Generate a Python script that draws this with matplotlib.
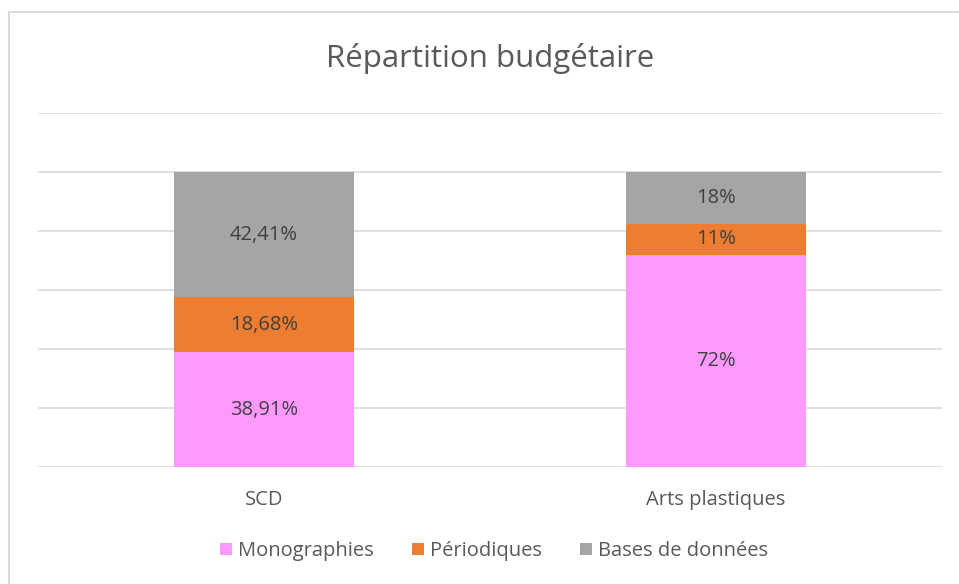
import matplotlib
matplotlib.use("Agg")
import matplotlib.pyplot as plt
from matplotlib.lines import Line2D
from matplotlib.patches import Patch
import numpy as np

categories = ["SCD", "Arts plastiques"]
series_names = ["Monographies", "Périodiques", "Bases de données"]
monographies = [38.91, 72]
periodiques = [18.68, 10.5]
bases = [42.41, 17.5]
labels_mono = ["38,91%", "72%"]
labels_per = ["18,68%", "11%"]
labels_bases = ["42,41%", "18%"]
colors = ["#FF99FF", "#ED7D31", "#A5A5A5"]
yticks = [0, 20, 40, 60, 80, 100, 120]

FONT = ["Open Sans", "DejaVu Sans"]
plt.rcParams['font.family'] = FONT

W, H = 959, 584
fig = plt.figure(figsize=(W / 100, H / 100), dpi=100)
ax = fig.add_axes([38 / W, 1 - 467 / H, (942 - 38) / W, (467 - 113) / H])

data = np.array([monographies, periodiques, bases], dtype=float)
totals = data.sum(axis=0)
pct = data / totals * 100
labels = [labels_mono, labels_per, labels_bases]

x = np.arange(len(categories))
bottom = np.zeros(len(categories))
for i in range(3):
    bars = ax.bar(x, pct[i], bottom=bottom, width=0.397, color=colors[i],
                  zorder=3, label=series_names[i])
    for j, b in enumerate(bars):
        ax.text(b.get_x() + b.get_width() / 2, bottom[j] + pct[i][j] / 2,
                labels[i][j], ha="center", va="center", fontsize=14.5,
                color="#404040", zorder=4)
    bottom += pct[i]

ax.set_xlim(-0.5, 1.5)
ax.set_ylim(0, 120)
ax.set_yticks(yticks)
ax.yaxis.grid(True, color="#D9D9D9", linewidth=1.2, zorder=0)
ax.tick_params(axis="y", left=False, labelleft=False)
ax.tick_params(axis="x", bottom=False, pad=13, labelsize=14.5, labelcolor="#595959")
ax.set_xticks(x)
ax.set_xticklabels(categories)
for s in ["top", "right", "left", "bottom"]:
    ax.spines[s].set_visible(False)

fig.text(490 / W, 1 - 59 / H, "Répartition budgétaire", ha="center", va="center",
         fontsize=22.5, color="#595959")

handles = [Patch(facecolor=c, edgecolor="none") for c in colors]
fig.legend(handles, series_names, loc="center", bbox_to_anchor=(494 / W, 1 - 551 / H),
           ncol=3, frameon=False, fontsize=14.5, labelcolor="#595959",
           handlelength=0.6, handleheight=0.6, handletextpad=0.3, columnspacing=1.9)

# chart area border (left and top visible)
fig.add_artist(Line2D([9 / W, 9 / W], [0, 1 - 12 / H], transform=fig.transFigure,
                      color="#D9D9D9", linewidth=1.5))
fig.add_artist(Line2D([9 / W, 1], [1 - 12 / H, 1 - 12 / H], transform=fig.transFigure,
                      color="#D9D9D9", linewidth=1.5))

fig.savefig("out.png", dpi=100)
